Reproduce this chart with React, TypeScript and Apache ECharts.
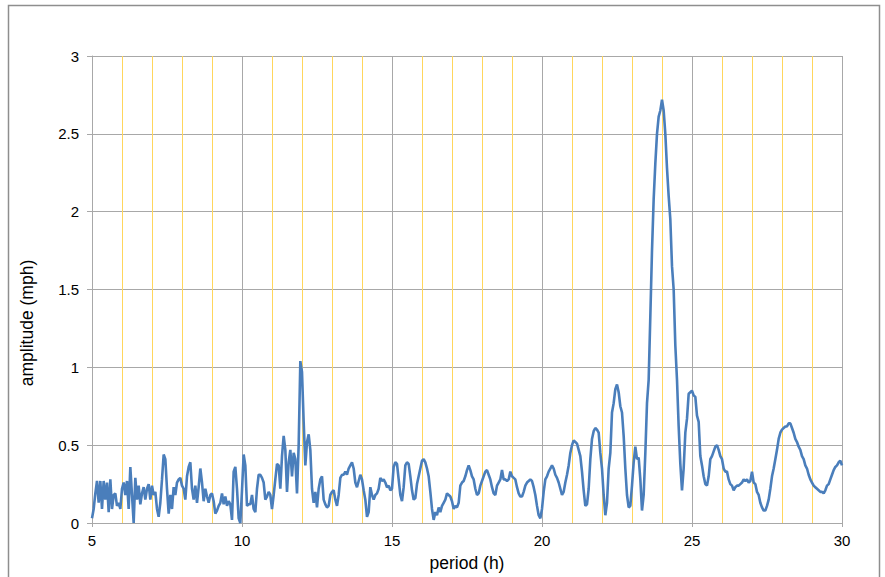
import React, { useEffect, useRef } from "react";
import * as echarts from "echarts";

// Periods are sampled on a uniform grid starting at 5 h with a step of 1/18 h.
const PERIOD_START = 5;
const PERIOD_STEP = 1 / 18;

// amplitude (mph), by period range
const amp05to10 = [
  0.03, 0.09, 0.19, 0.27, 0.13, 0.27, 0.09, 0.27, 0.15, 0.26,
  0.07, 0.28, 0.09, 0.18, 0.19, 0.11, 0.13, 0.09, 0.22, 0.26,
  0.18, 0.27, 0.09, 0.36, 0.18, 0.0, 0.29, 0.15, 0.24, 0.12,
  0.19, 0.23, 0.15, 0.22, 0.25, 0.15, 0.24, 0.18, 0.2, 0.09,
  0.04, 0.13, 0.28, 0.44, 0.41, 0.22, 0.06, 0.18, 0.09, 0.23,
  0.18, 0.26, 0.28, 0.29, 0.24, 0.22, 0.15, 0.3, 0.36, 0.39,
  0.22, 0.15, 0.24, 0.13, 0.23, 0.35, 0.26, 0.14, 0.22, 0.17,
  0.13, 0.18, 0.19, 0.14, 0.06, 0.08, 0.11, 0.13, 0.19, 0.12,
  0.17, 0.11, 0.14, 0.12, 0.02, 0.33, 0.36, 0.22, 0.03, 0.0,
  0.21,
];
const amp10to12 = [
  0.44, 0.37, 0.11, 0.12, 0.12, 0.18, 0.09, 0.07, 0.22, 0.31,
  0.31, 0.29, 0.26, 0.15, 0.17, 0.2, 0.18, 0.09, 0.18, 0.28,
  0.38, 0.37, 0.22, 0.43, 0.56, 0.47, 0.2, 0.39, 0.47, 0.3,
  0.45, 0.41, 0.19, 0.5, 1.04, 0.97, 0.65, 0.37, 0.52, 0.57,
  0.47, 0.22, 0.13, 0.2, 0.1, 0.22, 0.28, 0.3,
];
const amp12to16 = [
  0.15, 0.12, 0.1, 0.11, 0.18, 0.2, 0.21, 0.15, 0.11, 0.18,
  0.29, 0.31, 0.31, 0.33, 0.31, 0.35, 0.37, 0.39, 0.35, 0.26,
  0.23, 0.27, 0.31, 0.28, 0.21, 0.15, 0.04, 0.07, 0.23, 0.18,
  0.15, 0.18, 0.19, 0.22, 0.29, 0.27, 0.28, 0.26, 0.23, 0.24,
  0.21, 0.22, 0.36, 0.39, 0.38, 0.28, 0.18, 0.14, 0.23, 0.37,
  0.39, 0.38, 0.3, 0.21, 0.15, 0.16, 0.25, 0.3,
];
const amp16to21 = [
  0.35, 0.4, 0.41, 0.39, 0.35, 0.3, 0.2, 0.09, 0.02, 0.07,
  0.05, 0.1, 0.07, 0.11, 0.13, 0.15, 0.19, 0.18, 0.17, 0.14,
  0.09, 0.11, 0.1, 0.13, 0.24, 0.26, 0.27, 0.3, 0.34, 0.37,
  0.34, 0.3, 0.28, 0.22, 0.18, 0.19, 0.24, 0.27, 0.3, 0.33,
  0.34, 0.31, 0.28, 0.23, 0.19, 0.18, 0.24, 0.26, 0.28, 0.34,
  0.28, 0.28, 0.27, 0.28, 0.33, 0.3, 0.29, 0.28, 0.23, 0.19,
  0.17, 0.17, 0.2, 0.24, 0.26, 0.27, 0.28, 0.27, 0.23, 0.18,
  0.11, 0.05, 0.03, 0.09, 0.2, 0.28, 0.3, 0.33, 0.35, 0.37,
  0.35, 0.31, 0.29, 0.26, 0.22, 0.18, 0.2, 0.26, 0.31, 0.37,
  0.45, 0.5, 0.53, 0.52, 0.51, 0.47, 0.43, 0.33, 0.21, 0.11,
  0.12, 0.22,
];
const amp21to25 = [
  0.41, 0.54, 0.59, 0.61, 0.6, 0.58, 0.45, 0.35, 0.18, 0.05,
  0.13, 0.35, 0.45, 0.71, 0.77, 0.86, 0.89, 0.84, 0.75, 0.71,
  0.56, 0.35, 0.18, 0.1, 0.11, 0.24, 0.39, 0.49, 0.41, 0.42,
  0.28, 0.08, 0.18, 0.45, 0.77, 0.92, 1.33, 1.75, 2.08, 2.31,
  2.5, 2.61, 2.65, 2.72, 2.65, 2.5, 2.28, 2.1, 1.95, 1.65,
  1.5, 1.14, 0.92, 0.62, 0.38, 0.21, 0.35, 0.58, 0.67, 0.83,
  0.84, 0.85, 0.82, 0.81, 0.69, 0.65, 0.43, 0.37, 0.3, 0.25,
  0.24, 0.3,
];
const amp25to30 = [
  0.41, 0.43, 0.46, 0.49, 0.5, 0.47, 0.43, 0.41, 0.35, 0.33,
  0.33, 0.28, 0.25, 0.24, 0.21, 0.23, 0.24, 0.24, 0.25, 0.26,
  0.28, 0.27, 0.28, 0.26, 0.27, 0.33, 0.26, 0.25, 0.2, 0.18,
  0.13, 0.1, 0.08, 0.08, 0.11, 0.15, 0.22, 0.3, 0.35, 0.41,
  0.47, 0.54, 0.58, 0.6, 0.61, 0.62, 0.62, 0.64, 0.64, 0.61,
  0.58, 0.54, 0.52, 0.49, 0.47, 0.43, 0.41, 0.37, 0.35, 0.31,
  0.28, 0.26, 0.24, 0.23, 0.22, 0.21, 0.2, 0.2, 0.19, 0.21,
  0.24, 0.25, 0.28, 0.31, 0.34, 0.36, 0.37, 0.39, 0.4, 0.37,
];

const amplitude = [
  ...amp05to10,
  ...amp10to12,
  ...amp12to16,
  ...amp16to21,
  ...amp21to25,
  ...amp25to30,
];
const period = amplitude.map((_, k) => PERIOD_START + k * PERIOD_STEP);

const X_MIN = 5;
const X_MAX = 30;
const X_MAJOR = 5;
const Y_MIN = 0;
const Y_MAX = 3;
const Y_STEP = 0.5;

const X_NAME = "period (h)";
const Y_NAME = "amplitude (mph)";

export default function App() {
  const ref = useRef<HTMLDivElement>(null);

  useEffect(() => {
    if (!ref.current) return;
    const chart = echarts.init(ref.current, null, { renderer: "svg" });
    const gray = "#a8a8a8";
    const gold = "#ffd65c";
    const font = "'Liberation Sans', Arial, sans-serif";
    chart.setOption({
      animation: false,
      backgroundColor: "#ffffff",
      textStyle: { fontFamily: font },
      graphic: [
        {
          type: "rect",
          silent: true,
          z: -10,
          shape: { x: 8.5, y: 5.5, width: 871, height: 600 },
          style: { fill: "none", stroke: "#8e8e8e", lineWidth: 1.5 },
        },
        {
          type: "text",
          silent: true,
          x: 27,
          y: 323,
          rotation: Math.PI / 2,
          style: {
            text: Y_NAME,
            fontSize: 17.5,
            fontFamily: font,
            fill: "#000",
            align: "center",
            verticalAlign: "middle",
          },
        },
      ],
      grid: { left: 92, top: 56, width: 750, height: 468, containLabel: false },
      xAxis: {
        type: "value",
        min: X_MIN,
        max: X_MAX,
        interval: X_MAJOR,
        name: X_NAME,
        nameLocation: "middle",
        nameGap: 31,
        nameTextStyle: { fontSize: 17.5, color: "#000", fontFamily: font },
        axisLine: { show: true, onZero: false, lineStyle: { color: gray, width: 1 } },
        axisTick: { show: true, length: 4, lineStyle: { color: gray } },
        axisLabel: { fontSize: 15, color: "#000", margin: 10, fontFamily: font },
        splitLine: { show: true, lineStyle: { color: gray, width: 1 } },
        minorTick: { show: false, splitNumber: 5 },
        minorSplitLine: { show: true, lineStyle: { color: gold, width: 1 } },
      },
      yAxis: {
        type: "value",
        min: Y_MIN,
        max: Y_MAX,
        interval: Y_STEP,
        axisLine: { show: true, lineStyle: { color: gray, width: 1 } },
        axisTick: { show: true, length: 5, lineStyle: { color: gray } },
        axisLabel: { fontSize: 15, color: "#000", margin: 13, fontFamily: font },
        splitLine: { show: true, lineStyle: { color: gray, width: 1 } },
      },
      series: [
        {
          type: "line",
          data: period.map((p, k) => [p, amplitude[k]]),
          showSymbol: false,
          symbol: "none",
          smooth: false,
          lineStyle: { color: "#4a7ebb", width: 2.6 },
          clip: false,
          z: 5,
        },
      ],
    });
    return () => chart.dispose();
  }, []);

  return (
    <div
      ref={ref}
      style={{ position: "fixed", left: 0, top: 0, width: 885, height: 577 }}
    />
  );
}
